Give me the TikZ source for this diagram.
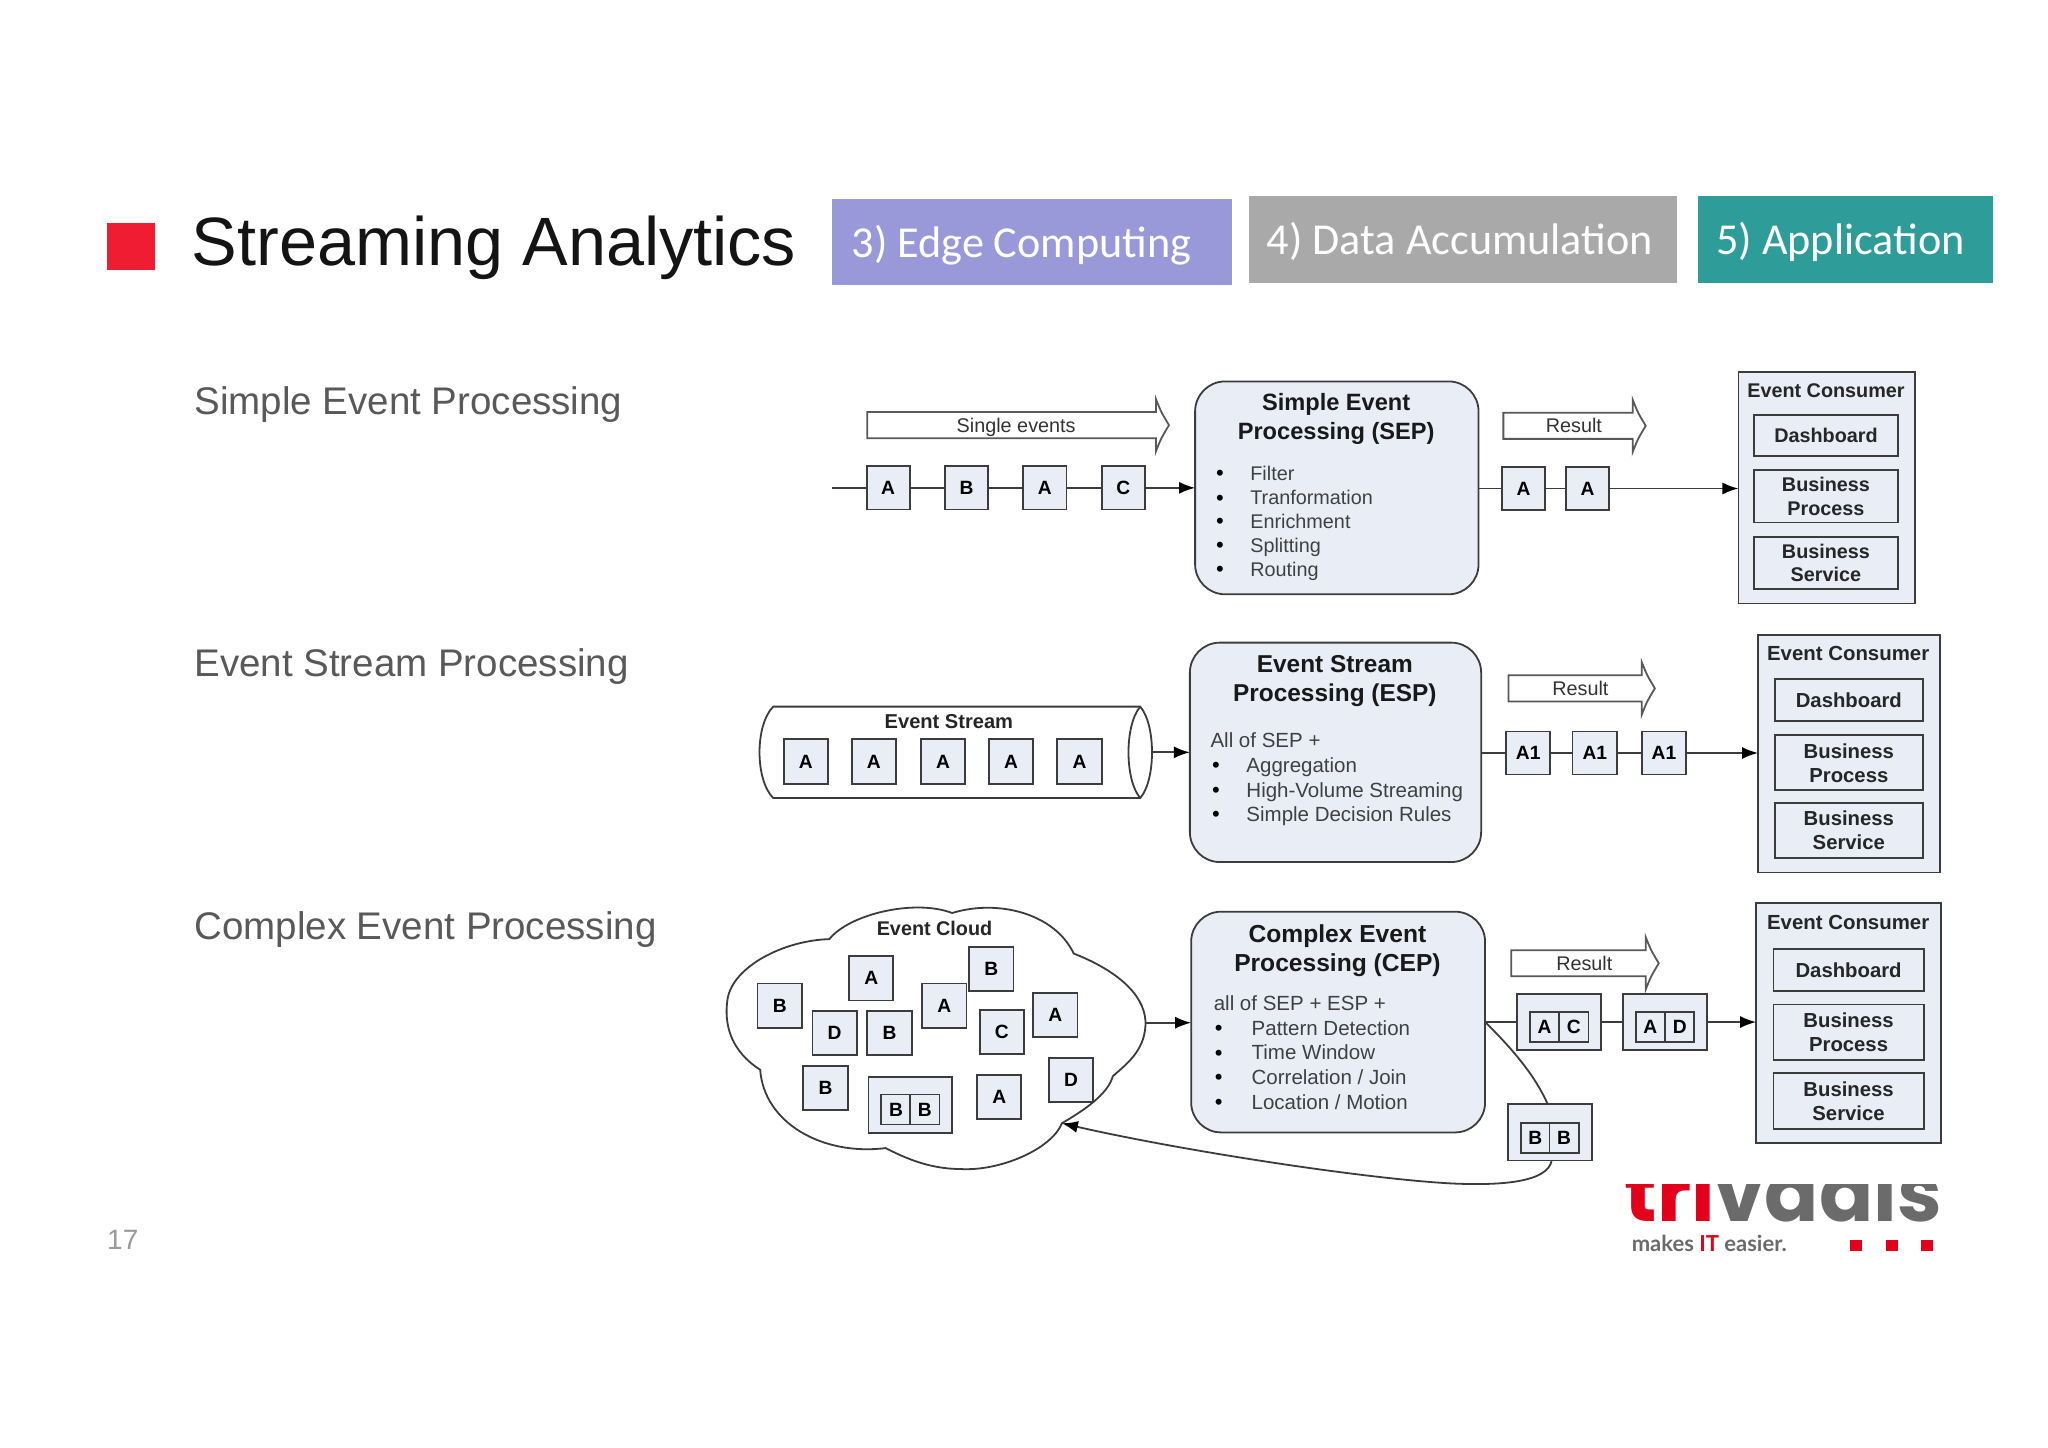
\documentclass[tikz,border=0pt]{standalone}
\usepackage{fontspec}
\setmainfont{Liberation Sans}
\newfontfamily\carlito{Carlito}
\newfontfamily\pop{Poppins}
\newfontfamily\latof{Lato}
\usetikzlibrary{arrows.meta,positioning}
\definecolor{boxfill}{HTML}{E8EDF6}
\definecolor{lineink}{HTML}{3C3C3C}
\definecolor{tvred}{HTML}{E2001A}
\definecolor{tvgrey}{HTML}{6B6B6B}
\tikzset{
  wh/.style 2 args={minimum width=#1*0.653pt,minimum height=#2*0.653pt},
  panel/.style={draw=lineink,fill=boxfill,line width=0.9pt,rectangle,inner sep=0pt,outer sep=0pt,align=center},
  evbox/.style={panel,wh={33}{33},font=\fontsize{9.6}{11}\bfseries\selectfont},
  splitcell/.style={panel,wh={22.5}{23},font=\fontsize{9.6}{11}\bfseries\selectfont},
  proc/.style={panel,rounded corners=15pt},
  consumer/.style={panel},
  conitem/.style={panel,font=\fontsize{9.9}{11.9}\bfseries\selectfont,text=black!85},
  conitemb/.style={conitem,font=\fontsize{10.15}{12}\bfseries\selectfont},
  contitle/.style={inner sep=0pt,text height=7.1pt,text depth=0pt,font=\fontsize{9.9}{11.9}\bfseries\selectfont,text=black!85},
  contitleb/.style={contitle,font=\fontsize{10.2}{12}\bfseries\selectfont},
  ptitle/.style={inner sep=0pt,align=center,font=\fontsize{11.8}{14.6}\bfseries\selectfont,text=black!90},
  ptitleb/.style={ptitle,font=\fontsize{12.2}{14.6}\bfseries\selectfont},
  ptitlec/.style={ptitle,font=\fontsize{12.3}{14.6}\bfseries\selectfont},
  item/.style={inner sep=0pt,anchor=west,text height=7.2pt,text depth=0pt,font=\fontsize{9.9}{12}\selectfont,text=black!75},
  itemb/.style={item,font=\fontsize{10.25}{12}\selectfont},
  bul/.style={inner sep=0pt,text height=7.4pt,text depth=0pt,font=\fontsize{11}{12}\selectfont,text=black},
  flow/.style={draw=lineink,line width=0.9pt},
  flowa/.style={flow,-{Latex[length=8pt,width=6pt,color=black]}},
  blockar/.style={draw=lineink!85,fill=white,line width=0.9pt},
  arlabel/.style={inner sep=0pt,text height=7pt,text depth=0pt,font=\fontsize{9.9}{11}\selectfont,text=black!80},
  heading/.style={inner sep=0pt,anchor=base west,font=\fontsize{19.25}{23}\selectfont,text=black!65},
  tab/.style={inner sep=0pt,outer sep=0pt,text=white,font=\fontsize{22.1}{25}\carlito\selectfont},
}
% name, left x, tip x, mid y, label x, label
\newcommand\BlockArrow[6]{%
  \draw[blockar] (#2,#4-10) -- (#3-10,#4-10) -- (#3-10,#4-20)
     .. controls (#3-6,#4-10) .. (#3,#4) .. controls (#3-6,#4+10) .. (#3-10,#4+20)
     -- (#3-10,#4+10) -- (#2,#4+10) -- cycle;
  \node[arlabel] (#1) at (#5,#4) {#6};}
\begin{document}
\begin{tikzpicture}[x=0.653pt,y=-0.653pt]
\useasboundingbox (0,0) rectangle (1568,1107.9);
\fill[white] (0,0) rectangle (1568,1107.9);

% header
\fill[fill={rgb,255:red,240;green,28;blue,50}] (82,171) rectangle (119,207);
\node[inner sep=0pt,anchor=base west,font=\fontsize{34.2}{40}\selectfont,text=black!92] (title) at (146.5,203) {Streaming Analytics};
\node[tab,fill={rgb,255:red,153;green,153;blue,218},wh={306}{66}] (tab3) at (790,185) {};
\node[tab,anchor=base west] (tab3t) at (652,197) {3) Edge Computing};
\node[tab,fill={rgb,255:red,169;green,169;blue,169},wh={328}{67}] (tab4) at (1120,183.5) {};
\node[tab,anchor=base west] (tab4t) at (970,195) {4) Data Accumulation};
\node[tab,fill={rgb,255:red,46;green,156;blue,152},wh={226}{67}] (tab5) at (1413,183.5) {};
\node[tab,anchor=base west] (tab5t) at (1314,195) {5) Application};

\node[heading] (h1) at (148.5,317) {Simple Event Processing};
\node[heading] (h2) at (148.5,518) {Event Stream Processing};
\node[heading] (h3) at (148.5,719) {Complex Event Processing};
\node[inner sep=0pt,font=\fontsize{14}{16}\selectfont,text=black!40] (pageno) at (94,949) {17};

% ------------- SEP
\BlockArrow{lsingle}{664}{895}{325.5}{778}{Single events}
\coordinate (s0) at (637,373.5);
\node[evbox] (s1) at (680,373.5) {A};
\node[evbox] (s2) at (740,373.5) {B};
\node[evbox] (s3) at (800,373.5) {A};
\node[evbox] (s4) at (860,373.5) {C};
\node[proc,wh={217}{163}] (sep) at (1023.5,373.5) {};
\node[ptitle] (septitle) at (1023,320.5) {Simple Event\\Processing (SEP)};
\node[bul] (sb1) at (934,362.5) {•}; \node[item] (si1) at (957,362.5) {Filter};
\node[bul] (sb2) at (934,381) {•}; \node[item] (si2) at (957,381) {Tranformation};
\node[bul] (sb3) at (934,399) {•}; \node[item] (si3) at (957,399) {Enrichment};
\node[bul] (sb4) at (934,417.5) {•}; \node[item] (si4) at (957,417.5) {Splitting};
\node[bul] (sb5) at (934,436) {•}; \node[item] (si5) at (957,436) {Routing};
\draw[flow] (s0) -- (s1);
\draw[flow] (s1) -- (s2);
\draw[flow] (s2) -- (s3);
\draw[flow] (s3) -- (s4);
\draw[flowa] (s4) -- (sep.west |- s4);
\BlockArrow{lres1}{1151}{1260}{326}{1205}{Result}
\node[evbox] (so1) at (1166.5,374) {A};
\node[evbox] (so2) at (1215.5,374) {A};
\node[consumer,wh={135}{177}] (c1) at (1398.5,373.5) {};
\node[contitle] (c1t) at (1398,299) {Event Consumer};
\node[conitem,wh={110}{31}] (c1a) at (1398,333.5) {Dashboard};
\node[conitem,wh={110}{40}] (c1b) at (1398,380) {Business\\Process};
\node[conitem,wh={110}{40}] (c1c) at (1398,431) {Business\\Service};
\draw[flow] (sep.east |- so1) -- (so1);
\draw[flow] (so1) -- (so2);
\draw[flowa] (so2) -- (c1.west |- so2);

% ------------- ESP
\path[draw=lineink,line width=0.9pt,fill=white] (592,541) .. controls (578,555) and (578,597) .. (592,611) -- (873,611)
   .. controls (885,597) and (885,555) .. (873,541) -- cycle;
\draw[draw=lineink,line width=0.9pt] (873,541) .. controls (861,555) and (861,597) .. (873,611);
\coordinate (streamr) at (881,576);
\node[contitle,font=\fontsize{10.05}{12}\bfseries\selectfont] (streamt) at (726.5,552.5) {Event Stream};
\node[evbox,wh={34}{34}] (e1) at (617,583) {A};
\node[evbox,wh={34}{34}] (e2) at (669,583) {A};
\node[evbox,wh={34}{34}] (e3) at (722,583) {A};
\node[evbox,wh={34}{34}] (e4) at (774,583) {A};
\node[evbox,wh={34}{34}] (e5) at (826.5,583) {A};
\node[proc,wh={223}{168}] (esp) at (1022.5,576) {};
\node[ptitleb] (esptitle) at (1022,521.5) {Event Stream\\Processing (ESP)};
\node[itemb] (ei0) at (926.5,566.5) {All of SEP +};
\node[bul] (eb1) at (931,586) {•}; \node[itemb] (ei1) at (954,586) {Aggregation};
\node[bul] (eb2) at (931,605) {•}; \node[itemb] (ei2) at (954,605) {High-Volume Streaming};
\node[bul] (eb3) at (931,623.5) {•}; \node[itemb] (ei3) at (954,623.5) {Simple Decision Rules};
\draw[flowa] (streamr) -- (esp.west |- streamr);
\BlockArrow{lres2}{1155}{1267}{527}{1210}{Result}
\node[evbox,wh={34}{33}] (eo1) at (1170,576.5) {A1};
\node[evbox,wh={34}{33}] (eo2) at (1221,576.5) {A1};
\node[evbox,wh={34}{33}] (eo3) at (1274,576.5) {A1};
\node[consumer,wh={139}{182}] (c2) at (1415.5,577) {};
\node[contitleb] (c2t) at (1415,500.5) {Event Consumer};
\node[conitemb,wh={113}{32}] (c2a) at (1415.5,536) {Dashboard};
\node[conitemb,wh={113}{42}] (c2b) at (1415.5,584) {Business\\Process};
\node[conitemb,wh={113}{42}] (c2c) at (1415.5,636) {Business\\Service};
\draw[flow] (esp.east |- eo1) -- (eo1);
\draw[flow] (eo1) -- (eo2);
\draw[flow] (eo2) -- (eo3);
\draw[flowa] (eo3) -- (c2.west |- eo3);

% ------------- CEP
\path[draw=lineink,line width=0.9pt,fill=white] (635,719)
  .. controls (650,700) and (700,688) .. (729,699)
  .. controls (765,688) and (808,700) .. (822,730)
  .. controls (860,745) and (878,765) .. (877,785)
  .. controls (876,805) and (862,815) .. (852,824)
  .. controls (848,838) and (830,850) .. (813,860)
  .. controls (805,880) and (765,897) .. (735,895)
  .. controls (710,895) and (690,885) .. (678,879)
  .. controls (630,885) and (585,860) .. (582,819)
  .. controls (560,805) and (554,785) .. (557,765)
  .. controls (561,740) and (600,720) .. (635,719) -- cycle;
\coordinate (cloudr) at (876.5,783);
\coordinate (cloudb) at (813,860);
\node[contitle] (cloudt) at (715.5,710.5) {Event Cloud};
\node[evbox,wh={34}{34}] (k1) at (597,770) {B};
\node[evbox,wh={34}{34}] (k2) at (667,749) {A};
\node[evbox,wh={34}{34}] (k3) at (759,742) {B};
\node[evbox,wh={34}{34}] (k4) at (723,770) {A};
\node[evbox,wh={34}{34}] (k5) at (808,777) {A};
\node[evbox,wh={34}{34}] (k6) at (767,790) {C};
\node[evbox,wh={34}{34}] (k7) at (639,791) {D};
\node[evbox,wh={34}{34}] (k8) at (681,791) {B};
\node[evbox,wh={34}{34}] (k9) at (632,833) {B};
\node[evbox,wh={34}{34}] (k10) at (765,840) {A};
\node[evbox,wh={34}{34}] (k11) at (820,827) {D};
\node[panel,wh={64}{43}] (kp) at (697,846) {};
\node[splitcell] (kpa) at (686,849.5) {B};
\node[splitcell] (kpb) at (708,849.5) {B};

\node[proc,wh={225}{169}] (cep) at (1024.5,782.5) {};
\node[ptitlec] (ceptitle) at (1024,728) {Complex Event\\Processing (CEP)};
\node[itemb] (ci0) at (929,768) {all of SEP + ESP +};
\node[bul] (cb1) at (933,787) {•}; \node[itemb] (ci1) at (958,787) {Pattern Detection};
\node[bul] (cb2) at (933,806) {•}; \node[itemb] (ci2) at (958,806) {Time Window};
\node[bul] (cb3) at (933,825) {•}; \node[itemb] (ci3) at (958,825) {Correlation / Join};
\node[bul] (cb4) at (933,844) {•}; \node[itemb] (ci4) at (958,844) {Location / Motion};
\draw[flowa] (cloudr) -- (cep.west |- cloudr);
\BlockArrow{lres3}{1157}{1270}{737.5}{1213}{Result}
\node[panel,wh={64}{43}] (oc) at (1193.7,782.5) {};
\node[splitcell] (oca) at (1182.5,786.5) {A};
\node[splitcell] (ocb) at (1205,786.5) {C};
\node[panel,wh={64}{43}] (od) at (1274.7,782.5) {};
\node[splitcell] (oda) at (1263.5,786.5) {A};
\node[splitcell] (odb) at (1286,786.5) {D};
\node[panel,wh={64}{43}] (ob) at (1186.7,867) {};
\node[splitcell] (oba) at (1175.5,871) {B};
\node[splitcell] (obb) at (1197.5,871) {B};
\node[consumer,wh={141.5}{183.5}] (c3) at (1415.3,783.3) {};
\node[contitleb] (c3t) at (1415,706.5) {Event Consumer};
\node[conitemb,wh={115}{32}] (c3a) at (1415.3,742.5) {Dashboard};
\node[conitemb,wh={115}{42.5}] (c3b) at (1415.3,790.3) {Business\\Process};
\node[conitemb,wh={115}{42.5}] (c3c) at (1415.3,843) {Business\\Service};
\draw[flow] (cep.east |- oc) -- (oc);
\draw[flow] (oc) -- (od);
\draw[flowa] (od) -- (c3.west |- od);
\draw[flow] (cep.east |- oc) .. controls (1160,805) and (1176,825) .. (ob.north -| 1185,0);
\draw[flowa] (ob.south -| 1188,0) .. controls (1185,905) and (1150,908) .. (1110,906)
   .. controls (1040,902) and (900,880) .. (cloudb);

% logo
\begin{scope}
\clip (1230,906.5) rectangle (1500,945);
\node[inner sep=0pt,anchor=base west,text height=24pt,text depth=0pt,font=\fontsize{40}{44}\pop\bfseries\selectfont] (logo) at (1243.5,935.5) {\textcolor{tvred}{tri}\textcolor{tvgrey}{vadis}};
\end{scope}
\node[inner sep=0pt,anchor=base west,text height=8pt,text depth=0pt,font=\fontsize{11}{13}\latof\bfseries\selectfont,text=tvgrey] (tag) at (1249,958) {makes \textcolor{tvred}{IT} easier.};
\fill[tvred] (1416.5,949) rectangle (1425.5,958);
\fill[tvred] (1444,949) rectangle (1453,958);
\fill[tvred] (1471,949) rectangle (1480,958);
\end{tikzpicture}
\end{document}
